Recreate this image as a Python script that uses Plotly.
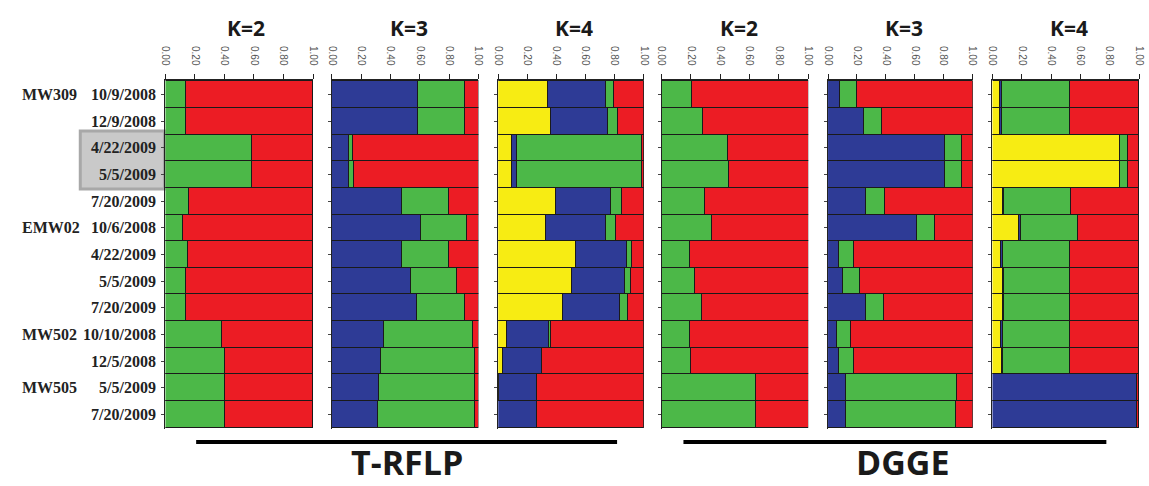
import plotly.graph_objects as go

W, H = 1149, 486

rows = ["10/9/2008", "12/9/2008", "4/22/2009", "5/5/2009", "7/20/2009",
        "10/6/2008", "4/22/2009", "5/5/2009", "7/20/2009",
        "10/10/2008", "12/5/2008", "5/5/2009", "7/20/2009"]
sites = {"MW309": 0, "EMW02": 5, "MW502": 9, "MW505": 11}

panel_titles = ["K=2", "K=3", "K=4", "K=2", "K=3", "K=4"]
method_labels = ["T-RFLP", "DGGE"]
tick_vals = [0.0, 0.2, 0.4, 0.6, 0.8, 1.0]

# ---- T-RFLP ----
trflp_k2_green = [0.14, 0.14, 0.59, 0.59, 0.16, 0.12, 0.155, 0.14, 0.14, 0.385, 0.405, 0.405, 0.405]
trflp_k2_red   = [0.86, 0.86, 0.41, 0.41, 0.84, 0.88, 0.845, 0.86, 0.86, 0.615, 0.595, 0.595, 0.595]

trflp_k3_blue  = [0.585, 0.585, 0.117, 0.117, 0.478, 0.608, 0.478, 0.536, 0.579, 0.356, 0.331, 0.322, 0.315]
trflp_k3_green = [0.32, 0.32, 0.029, 0.033, 0.317, 0.312, 0.322, 0.32, 0.326, 0.606, 0.642, 0.651, 0.658]
trflp_k3_red   = [0.095, 0.095, 0.854, 0.85, 0.205, 0.08, 0.20, 0.144, 0.095, 0.038, 0.027, 0.027, 0.027]

trflp_k4_yellow = [0.34, 0.367, 0.098, 0.098, 0.40, 0.33, 0.533, 0.51, 0.447, 0.061, 0.034, 0.005, 0.0]
trflp_k4_blue   = [0.402, 0.388, 0.032, 0.032, 0.377, 0.412, 0.352, 0.364, 0.393, 0.289, 0.266, 0.26, 0.265]
trflp_k4_green  = [0.058, 0.068, 0.86, 0.86, 0.073, 0.068, 0.035, 0.041, 0.056, 0.017, 0.005, 0.002, 0.002]
trflp_k4_red    = [0.20, 0.177, 0.01, 0.01, 0.15, 0.19, 0.08, 0.085, 0.104, 0.633, 0.695, 0.733, 0.733]

# ---- DGGE ----
dgge_k2_green = [0.203, 0.279, 0.45, 0.455, 0.293, 0.342, 0.189, 0.225, 0.274, 0.189, 0.2, 0.64, 0.64]
dgge_k2_red   = [0.797, 0.721, 0.55, 0.545, 0.707, 0.658, 0.811, 0.775, 0.726, 0.811, 0.8, 0.36, 0.36]

dgge_k3_blue  = [0.082, 0.25, 0.81, 0.81, 0.262, 0.612, 0.075, 0.105, 0.262, 0.059, 0.075, 0.125, 0.125]
dgge_k3_green = [0.118, 0.122, 0.115, 0.115, 0.133, 0.125, 0.108, 0.118, 0.128, 0.101, 0.108, 0.765, 0.761]
dgge_k3_red   = [0.80, 0.628, 0.075, 0.075, 0.605, 0.263, 0.817, 0.777, 0.61, 0.84, 0.817, 0.11, 0.114]

dgge_k4_yellow = [0.057, 0.057, 0.87, 0.87, 0.075, 0.187, 0.064, 0.075, 0.075, 0.064, 0.068, 0.0, 0.0]
dgge_k4_blue   = [0.008, 0.008, 0.0, 0.0, 0.008, 0.008, 0.008, 0.008, 0.008, 0.008, 0.008, 0.99, 0.99]
dgge_k4_green  = [0.468, 0.468, 0.055, 0.055, 0.454, 0.392, 0.461, 0.45, 0.45, 0.461, 0.457, 0.0, 0.0]
dgge_k4_red    = [0.467, 0.467, 0.075, 0.075, 0.463, 0.413, 0.467, 0.467, 0.467, 0.467, 0.467, 0.01, 0.01]

COL = {"green": "#4cb848", "red": "#ec1c24", "blue": "#2e3b96", "yellow": "#f7ec13"}

panels = [
    [("green", trflp_k2_green), ("red", trflp_k2_red)],
    [("blue", trflp_k3_blue), ("green", trflp_k3_green), ("red", trflp_k3_red)],
    [("yellow", trflp_k4_yellow), ("blue", trflp_k4_blue), ("green", trflp_k4_green), ("red", trflp_k4_red)],
    [("green", dgge_k2_green), ("red", dgge_k2_red)],
    [("blue", dgge_k3_blue), ("green", dgge_k3_green), ("red", dgge_k3_red)],
    [("yellow", dgge_k4_yellow), ("blue", dgge_k4_blue), ("green", dgge_k4_green), ("red", dgge_k4_red)],
]

# layout in pixels
panel_px = [(162, 311), (330, 478), (498, 645), (663, 811), (831, 977), (997, 1145)]
title_px = [243, 408, 574, 741, 908, 1074]
plot_top, plot_bot = 80, 429
px = lambda x: x / W
py = lambda y: 1 - y / H

fig = go.Figure()
ypos = list(range(len(rows)))
for i, segs in enumerate(panels):
    ax = "" if i == 0 else str(i + 1)
    for cname, vals in segs:
        fig.add_trace(go.Bar(
            x=vals, y=ypos, orientation="h", width=1.0,
            marker=dict(color=COL[cname], line=dict(color="#1a1a1a", width=1)),
            xaxis="x" + ax, yaxis="y" + ax, showlegend=False, hoverinfo="skip"))
    x0, x1 = panel_px[i]
    fig.layout["xaxis" + ax] = dict(
        domain=[px(x0), px(x1)], anchor="y" + ax, side="top", range=[0, 1.0],
        tickvals=tick_vals, tickformat=".2f", tickangle=90, ticklabelstandoff=5,
        tickfont=dict(family="Liberation Sans", size=10, color="#555555"),
        ticks="outside", ticklen=5, tickcolor="#222", showline=True,
        linecolor="#222", linewidth=1, showgrid=False, zeroline=False, fixedrange=True)
    fig.layout["yaxis" + ax] = dict(
        domain=[py(plot_bot), py(plot_top)], anchor="x" + ax,
        range=[len(rows) - 0.45, -0.55], tickvals=ypos, showticklabels=False,
        ticks="outside", ticklen=3, tickcolor="#444", showline=True,
        linecolor="#222", linewidth=1, showgrid=False, zeroline=False, fixedrange=True)

annotations = []
for i, t in enumerate(panel_titles):
    annotations.append(dict(text="<b>" + t + "</b>", x=px(title_px[i]), y=py(28),
                            xref="paper", yref="paper", showarrow=False,
                            xanchor="center", yanchor="middle",
                            font=dict(family="Open Sans", size=21, color="#1a1a1a")))
for j, d in enumerate(rows):
    annotations.append(dict(text="<b>" + d + "</b>", x=px(154), y=j, xref="paper", yref="y",
                            showarrow=False, xanchor="right", yanchor="middle",
                            font=dict(family="Liberation Serif", size=16, color="#222")))
for s, j in sites.items():
    annotations.append(dict(text="<b>" + s + "</b>", x=px(15), y=j, xref="paper", yref="y",
                            showarrow=False, xanchor="left", yanchor="middle",
                            font=dict(family="Liberation Serif", size=16, color="#222")))
method_px = [(193, 618), (685, 1112)]
method_text_px = [406, 906]
shapes = [dict(type="rect", xref="paper", yref="paper", x0=px(76), x1=px(161),
               y0=py(189), y1=py(131), fillcolor="#c9c9c9",
               line=dict(color="#a8a8a8", width=3), layer="below")]
for k, lab in enumerate(method_labels):
    a, b = method_px[k]
    shapes.append(dict(type="line", xref="paper", yref="paper", x0=px(a), x1=px(b),
                       y0=py(442), y1=py(442), line=dict(color="black", width=4)))
    annotations.append(dict(text="<b>" + lab + "</b>", x=px(method_text_px[k]), y=0,
                            xref="paper", yref="paper", showarrow=False,
                            xanchor="center", yanchor="bottom", borderpad=0,
                            font=dict(family="Open Sans", size=34, color="#1a1a1a")))

fig.update_layout(width=W, height=H, autosize=False, barmode="stack", bargap=0,
                  margin=dict(l=0, r=0, t=0, b=0), paper_bgcolor="white",
                  plot_bgcolor="white", annotations=annotations, shapes=shapes)
fig.write_html("out.html", config={"displayModeBar": False},
               post_script="document.body.style.margin='0px';document.body.style.overflow='hidden';")
